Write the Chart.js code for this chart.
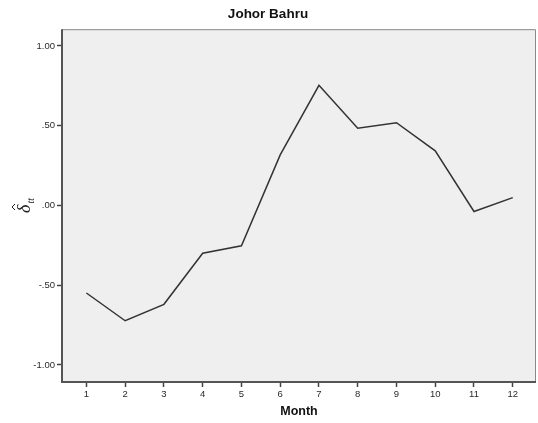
<!DOCTYPE html>
<html>
<head>
<meta charset="utf-8">
<title>Johor Bahru</title>
<script src="https://cdn.jsdelivr.net/npm/chart.js@4.4.1/dist/chart.umd.min.js"></script>
<style>
  html, body { margin: 0; padding: 0; background: #ffffff; }
  #wrap { width: 538px; height: 423px; }
</style>
</head>
<body>
<div id="wrap"><canvas id="chart" width="538" height="423"></canvas></div>
<script>
// Monthly estimates for Johor Bahru
const months = [1, 2, 3, 4, 5, 6, 7, 8, 9, 10, 11, 12];
const deltaValues = [-0.549, -0.723, -0.620, -0.300, -0.253, 0.317, 0.753, 0.484, 0.519, 0.342, -0.038, 0.049];
const yTickValues = [-1.0, -0.5, 0.0, 0.5, 1.0];
const xTickValues = months;

// SPSS-style number format: drop the leading zero (".50", "-.50")
function fmt(v) {
  let s = Math.abs(v).toFixed(2);
  if (s.startsWith('0')) s = s.slice(1);
  return (v < 0 ? '-' : '') + s;
}

const plotFrame = {
  id: 'plotFrame',
  beforeDatasetsDraw(chart) {
    const { ctx, chartArea: a } = chart;
    ctx.save();
    ctx.fillStyle = '#efefef';
    ctx.fillRect(a.left, a.top, a.right - a.left, a.bottom - a.top);
    ctx.restore();
  },
  afterDraw(chart) {
    const { ctx, chartArea: a } = chart;
    ctx.save();
    // light top and right edges of the frame
    ctx.strokeStyle = '#8a8a8a';
    ctx.lineWidth = 1;
    ctx.beginPath();
    ctx.moveTo(a.left, a.top + 0.5);
    ctx.lineTo(a.right - 0.5, a.top + 0.5);
    ctx.lineTo(a.right - 0.5, a.bottom);
    ctx.stroke();
    // dark left and bottom axis lines
    ctx.strokeStyle = '#555555';
    ctx.lineWidth = 2;
    ctx.beginPath();
    ctx.moveTo(a.left, a.top);
    ctx.lineTo(a.left, a.bottom);
    ctx.lineTo(a.right, a.bottom);
    ctx.stroke();

    // y-axis label: delta-hat with subscript tt, rotated
    ctx.translate(25, 206);
    ctx.rotate(-Math.PI / 2);
    ctx.fillStyle = '#222222';
    ctx.textBaseline = 'alphabetic';
    ctx.textAlign = 'left';
    ctx.font = 'italic 18px "Liberation Serif", "DejaVu Serif", serif';
    ctx.fillText('\u03B4', -7, 5);
    // hat over the delta
    ctx.strokeStyle = '#222222';
    ctx.lineWidth = 1;
    ctx.beginPath();
    ctx.moveTo(-4, -10);
    ctx.lineTo(-1, -13);
    ctx.lineTo(2, -10);
    ctx.stroke();
    ctx.font = 'italic 10px "Liberation Serif", "DejaVu Serif", serif';
    ctx.fillText('tt', 2.5, 9);
    ctx.restore();
  }
};

new Chart(document.getElementById('chart'), {
  type: 'line',
  data: {
    datasets: [{
      data: months.map((m, i) => ({ x: m, y: deltaValues[i] })),
      borderColor: '#333333',
      borderWidth: 1.5,
      pointRadius: 0,
      tension: 0,
      fill: false
    }]
  },
  options: {
    responsive: false,
    animation: false,
    devicePixelRatio: 1,
    layout: { padding: { left: 0, right: 2, top: 0, bottom: 0 } },
    plugins: {
      legend: { display: false },
      tooltip: { enabled: false },
      title: {
        display: true,
        text: 'Johor Bahru',
        color: '#111111',
        font: { family: '"Liberation Sans", Arial, sans-serif', size: 13.5, weight: 'bold' },
        padding: { top: 6, bottom: 7 }
      }
    },
    scales: {
      x: {
        type: 'linear',
        min: 0.37,
        max: 12.6,
        afterBuildTicks: s => { s.ticks = xTickValues.map(v => ({ value: v })); },
        afterFit: s => { s.height = 41; },
        grid: { display: true, drawOnChartArea: false, drawTicks: true, tickLength: 5, color: '#444444', tickWidth: 1.5 },
        border: { display: false },
        ticks: {
          color: '#2a2a2a',
          padding: 2,
          maxRotation: 0,
          autoSkip: false,
          font: { family: '"Liberation Sans", Arial, sans-serif', size: 9.5 },
          callback: v => String(v)
        },
        title: {
          display: true,
          text: 'Month',
          color: '#111111',
          padding: { top: 0, bottom: 4 },
          font: { family: '"Liberation Sans", Arial, sans-serif', size: 12.5, weight: 'bold' }
        }
      },
      y: {
        type: 'linear',
        min: -1.107,
        max: 1.105,
        afterBuildTicks: s => { s.ticks = yTickValues.map(v => ({ value: v })); },
        afterFit: s => { s.width = 62; },
        grid: { display: true, drawOnChartArea: false, drawTicks: true, tickLength: 5, color: '#444444', tickWidth: 1.5 },
        border: { display: false },
        ticks: {
          color: '#2a2a2a',
          padding: 2,
          autoSkip: false,
          font: { family: '"Liberation Sans", Arial, sans-serif', size: 9.5 },
          callback: v => fmt(v)
        },
        title: { display: false }
      }
    }
  },
  plugins: [plotFrame]
});
</script>
</body>
</html>
